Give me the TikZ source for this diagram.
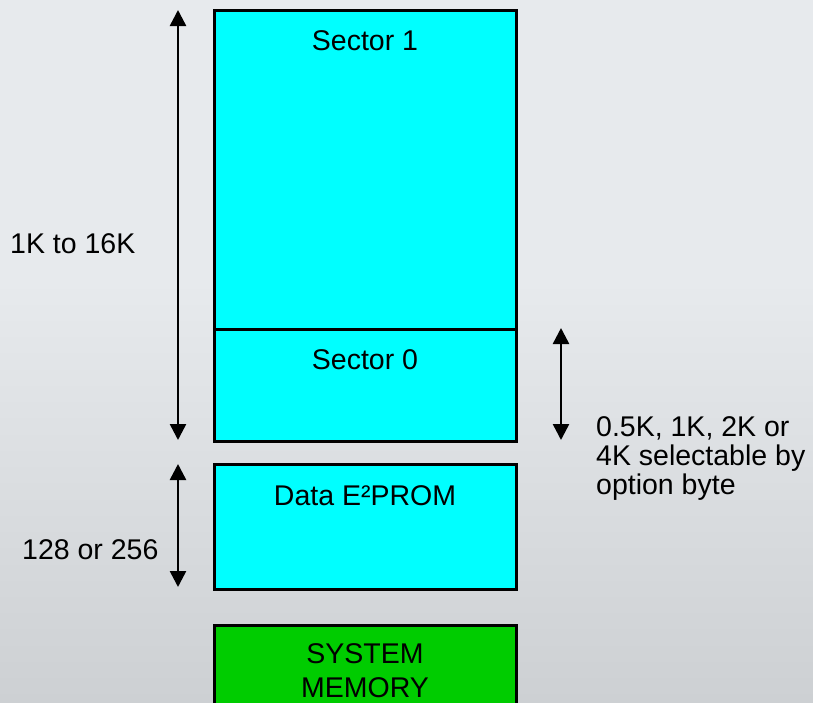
\documentclass[tikz,border=0pt]{standalone}
\usepackage{fontspec}
\setmainfont{Liberation Sans}
\usetikzlibrary{arrows.meta}

\definecolor{bgtop}{RGB}{231,234,237}
\definecolor{bgbottom}{RGB}{205,208,211}
\definecolor{flashcyan}{RGB}{0,255,255}
\definecolor{sysgreen}{RGB}{0,204,0}

\tikzset{
  membox/.style={draw=black, line width=3pt, fill=flashcyan, inner sep=0pt,
    minimum width=302pt, anchor=north},
  sysbox/.style={membox, fill=sysgreen},
  memtext/.style={font=\fontsize{28.5}{33}\selectfont, inner sep=0pt, anchor=base},
  sidetext/.style={font=\fontsize{28.5}{33}\selectfont, inner sep=0pt, anchor=base west},
  dim/.style={line width=2.5pt, {Triangle[width=16pt,length=16pt]}-{Triangle[width=16pt,length=16pt]}}
}

\begin{document}
\begin{tikzpicture}[x=1pt, y=-1pt]
  % canvas and background
  \useasboundingbox (0,0) rectangle (813,702);
  \clip (0,0) rectangle (813,702);
  \fill[bgtop] (0,0) rectangle (813,702);
  \shade[top color=bgtop, bottom color=bgbottom] (0,280) rectangle (813,702);

  % memory blocks
  \node[membox, minimum height=318.5pt] (s1) at (365,9) {};
  \node[membox, minimum height=112.5pt] (s0) at (365,327.5) {};
  \node[membox, minimum height=125pt] (ee) at (365,463) {};
  \node[sysbox, minimum height=140pt] (sys) at (365,623.5) {};

  % block labels
  \node[memtext] (t1) at (365,50) {Sector 1};
  \node[memtext] (t0) at (365,369) {Sector 0};
  \node[memtext] (tee) at (365,505) {Data E²PROM};
  \node[memtext] (tsys1) at (365,663) {SYSTEM};
  \node[memtext] (tsys2) at (365,697.5) {MEMORY};

  % dimension arrows
  \coordinate (fa) at (178,10);
  \coordinate (fb) at (178,440);
  \coordinate (ea) at (178,464);
  \coordinate (eb) at (178,587);
  \coordinate (sa) at (561,328);
  \coordinate (sb) at (561,440);
  \draw[dim] (fa) -- (fb);
  \draw[dim] (ea) -- (eb);
  \draw[dim] (sa) -- (sb);

  % dimension labels
  \node[sidetext] (lflash) at (10,253) {1K to 16K};
  \node[sidetext] (lee) at (22,559) {128 or 256};
  \node[sidetext] (ls1) at (596,436) {0.5K, 1K, 2K or};
  \node[sidetext] (ls2) at (596,465) {4K selectable by};
  \node[sidetext] (ls3) at (596,494) {option byte};
\end{tikzpicture}
\end{document}
